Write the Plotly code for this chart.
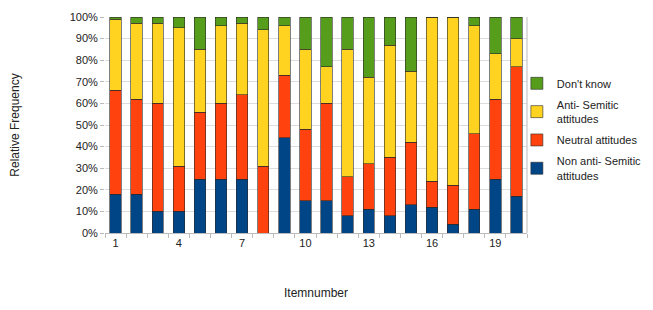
import plotly.graph_objects as go

items = list(range(1, 21))
non_anti = [18, 18, 10, 10, 25, 25, 25, 0, 44, 15, 15, 8, 11, 8, 13, 12, 4, 11, 25, 17]
neutral = [48, 44, 50, 21, 31, 35, 39, 31, 29, 33, 45, 18, 21, 27, 29, 12, 18, 35, 37, 60]
anti = [33, 35, 37, 64, 29, 36, 33, 63, 23, 37, 17, 59, 40, 52, 33, 76, 78, 50, 21, 13]
dont_know = [1, 3, 3, 5, 15, 4, 3, 6, 4, 15, 23, 15, 28, 13, 25, 0, 0, 4, 17, 10]
tick_vals = [1, 4, 7, 10, 13, 16, 19]

series = [
    ("Non anti- Semitic<br>attitudes", non_anti, "#004586"),
    ("Neutral attitudes", neutral, "#ff420e"),
    ("Anti- Semitic<br>attitudes", anti, "#ffd320"),
    ("Don't know", dont_know, "#579d1c"),
]

fig = go.Figure()
for i, (name, vals, col) in enumerate(series):
    fig.add_trace(go.Bar(
        x=items, y=[v / 100 for v in vals], name=name,
        marker=dict(color=col, line=dict(color="#2a2a2a", width=0.6)),
        legendgroup=str(i), legendrank=len(series) - i,
    ))

font = "Liberation Sans, Arial, sans-serif"
fig.update_layout(
    width=653, height=310,
    barmode="stack", bargap=0.46,
    plot_bgcolor="white", paper_bgcolor="white",
    margin=dict(l=105, r=126, t=17, b=77, autoexpand=False),
    font=dict(family=font, size=11, color="#222"),
    showlegend=True,
    legend=dict(
        x=0.976, xanchor="left", y=0.76, yanchor="top",
        traceorder="grouped", tracegroupgap=3,
        bgcolor="rgba(0,0,0,0)",
        font=dict(size=11, color="#222"),
        itemwidth=30,
    ),
    xaxis=dict(
        range=[0.5, 20.5], tickvals=tick_vals, ticktext=[str(v) for v in tick_vals],
        ticks="", showgrid=False, showline=True, linecolor="#bbbbbb", linewidth=1,
        minor=dict(ticks="outside", tick0=0.5, dtick=1, ticklen=4, tickcolor="#bbbbbb", showgrid=False),
        title=dict(text="Itemnumber", standoff=40, font=dict(size=12)),
        mirror=False, zeroline=False,
    ),
    yaxis=dict(
        range=[0, 1], dtick=0.1, tickformat=".0%",
        showgrid=True, gridcolor="#dddddd", gridwidth=1,
        ticks="outside", ticklen=4, tickcolor="#bbbbbb",
        showline=False, zeroline=False,
        title=dict(text="Relative Frequency", standoff=47, font=dict(size=12)),
    ),
    shapes=[dict(type="line", xref="paper", yref="paper", x0=1, x1=1, y0=0, y1=1,
                 line=dict(color="#bbbbbb", width=1))],
)

fig.write_html("out.html")
